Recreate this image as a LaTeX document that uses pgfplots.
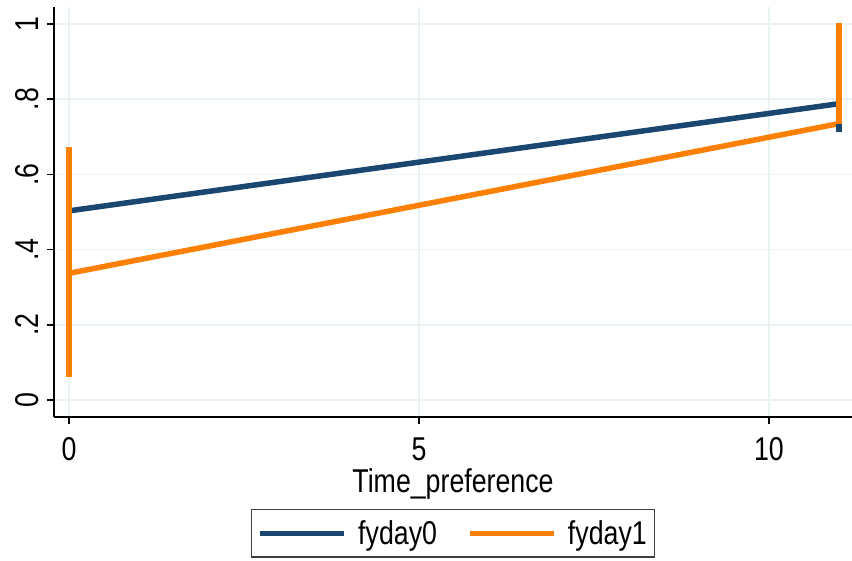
\documentclass[border=0pt]{standalone}
\usepackage{fontspec}
\setmainfont{Liberation Sans}[FakeStretch=0.81]
\usepackage{pgfplots}
\pgfplotsset{compat=1.18}
\definecolor{sblue}{HTML}{1A476F}
\definecolor{sorange}{HTML}{FF8000}
\definecolor{sgrid}{HTML}{EAF2F3}
\begin{document}
\begin{tikzpicture}
\begin{axis}[
  scale only axis,
  width=798pt, height=410pt,
  xmin=-0.214, xmax=11.186,
  ymin=-0.045, ymax=1.045,
  axis x line*=bottom, axis y line*=left,
  axis line style={line width=1.6pt, black},
  xtick={0,5,10}, xticklabels={0,5,10},
  ytick={0,0.2,0.4,0.6,0.8,1}, yticklabels={0,.2,.4,.6,.8,1},
  tick align=outside, major tick length=7pt,
  tick style={line width=1.5pt, black},
  grid=major, grid style={sgrid, line width=1.6pt},
  font=\fontsize{33}{40}\selectfont,
  xticklabel style={anchor=base, yshift=-36pt},
  yticklabel style={rotate=90, anchor=base, yshift=8pt},
  xlabel={Time\_preference},
  xlabel style={at={(axis description cs:0.5,-0.183)}, anchor=base},
  legend style={at={(axis description cs:0.5,-0.2244)}, anchor=north,
    draw=black!75, line width=1.3pt, inner xsep=6pt, inner ysep=9pt,
    font=\fontsize{33}{40}\selectfont,
    /tikz/every odd column/.append style={column sep=10pt},
    /tikz/every even column/.append style={column sep=28pt}},
  legend columns=2,
  legend image code/.code={\draw[#1, line width=5pt] (0pt,0pt) -- (84pt,0pt);},
  clip=false,
]
\coordinate (bl) at (rel axis cs:0,0);
\coordinate (tr) at (rel axis cs:1,1);
\addplot[sblue, line width=5.5pt] coordinates {(0,0.503) (11,0.788)};
\addlegendentry{fyday0}
\addplot[sorange, line width=5.5pt] coordinates {(0,0.337) (11,0.735)};
\addlegendentry{fyday1}
\addplot[sblue, line width=5.5pt, forget plot] coordinates {(0,0.36) (0,0.64)};
\addplot[sblue, line width=5.5pt, forget plot] coordinates {(11,0.712) (11,0.86)};
\addplot[sorange, line width=5.5pt, forget plot] coordinates {(0,0.062) (0,0.672)};
\addplot[sorange, line width=5.5pt, forget plot] coordinates {(11,0.735) (11,1.002)};
\end{axis}
\pgfresetboundingbox
\useasboundingbox ([xshift=-54pt,yshift=-143pt]bl) rectangle ([yshift=7pt]tr);
\end{tikzpicture}
\end{document}
